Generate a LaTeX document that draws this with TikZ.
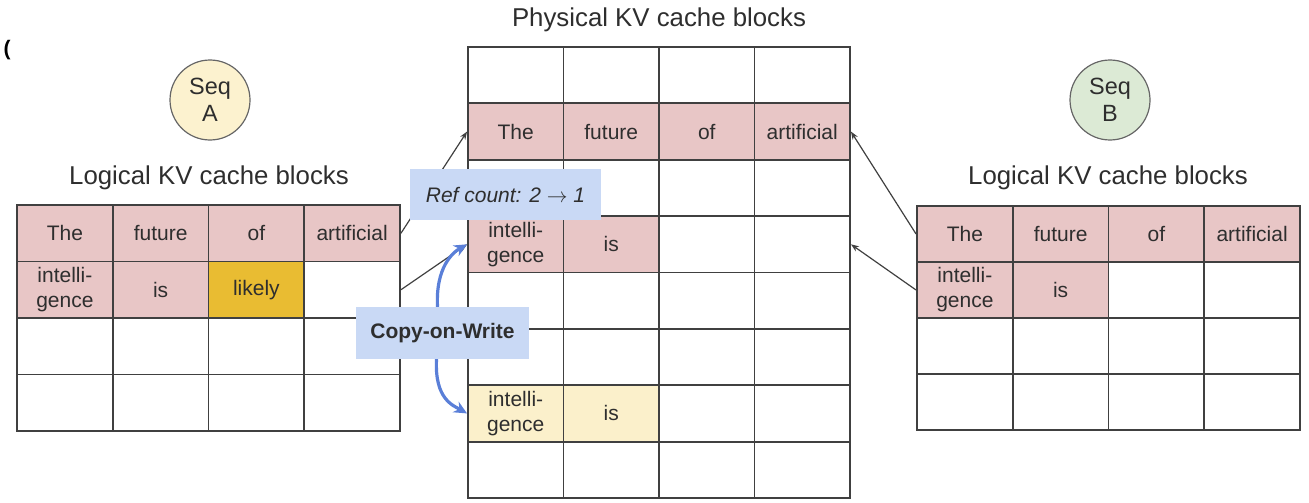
\documentclass[tikz,border=0pt]{standalone}
\usepackage{fontspec}
\setmainfont{Liberation Sans}
\usetikzlibrary{arrows.meta}

\definecolor{gridc}{HTML}{404040}
\definecolor{txt}{HTML}{2E2E2E}
\definecolor{pinkc}{HTML}{E8C6C6}
\definecolor{goldc}{HTML}{E9BC32}
\definecolor{creamc}{HTML}{FBF0CB}
\definecolor{tagc}{HTML}{C9D9F5}
\definecolor{cowc}{HTML}{5A7FD8}
\definecolor{seqa}{HTML}{FCF2CF}
\definecolor{seqb}{HTML}{DCEAD5}

\newcommand{\cellfont}{\fontsize{21}{25}\selectfont}
\newcommand{\titlefont}{\fontsize{25.8}{30}\selectfont}

\begin{document}
\begin{tikzpicture}[x=1pt,y=-1pt,
  cell/.style={draw=gridc, line width=1.9pt, inner sep=0pt, align=center,
    font=\cellfont, text=txt, fill=white},
  lcell/.style={cell, minimum width=95.75pt, minimum height=56.5pt},
  pcell/.style={cell, minimum width=95.5pt, minimum height=56.375pt},
  rcell/.style={cell, minimum width=95.75pt, minimum height=56pt},
  title/.style={font=\titlefont, text=txt},
  seq/.style={circle, draw=gray!80!black, line width=1.2pt, minimum size=80pt,
    inner sep=0pt, align=center, text=txt, font=\fontsize{23.5}{27}\selectfont},
  link/.style={draw=gridc, line width=1.2pt, -{Stealth[length=8pt,width=6pt]}},
  tag/.style={fill=tagc, inner sep=0pt, text=txt, font=\cellfont},
  cow/.style={draw=cowc, line width=3.2pt, -{Stealth[length=13pt,width=12pt]}}
]
\useasboundingbox (0,0) rectangle (1309,503);

% stray bracket mark in the top-left corner
\node[font=\fontsize{21}{24}\selectfont\bfseries, text=black, inner sep=0pt] (mark) at (7,50) {(};

% titles
\node[title] (ptitle) at (659,20) {Physical KV cache blocks};
\node[title] (ltitleA) at (209,178) {Logical KV cache blocks};
\node[title] (ltitleB) at (1108,178) {Logical KV cache blocks};

% sequence badges
\node[seq, fill=seqa] (seqA) at (210,100) {Seq\\A};
\node[seq, fill=seqb] (seqB) at (1110,100) {Seq\\B};

% logical blocks of sequence A
\foreach \r in {1,...,4}{\foreach \c in {1,...,4}{
  \node[lcell] (L-\r-\c) at ({17+95.75*(\c-0.5)},{205+56.5*(\r-0.5)}) {};
}}
\foreach \r/\c/\f/\t in {1/1/pinkc/The,1/2/pinkc/future,1/3/pinkc/of,
    1/4/pinkc/artificial,2/1/pinkc/{intelli-\\gence},2/2/pinkc/is,2/3/goldc/likely}{
  \node[lcell, fill=\f] (LT-\r-\c) at (L-\r-\c) {\t};
}

% physical blocks
\foreach \r in {1,...,8}{\foreach \c in {1,...,4}{
  \node[pcell] (P-\r-\c) at ({468+95.5*(\c-0.5)},{47+56.375*(\r-0.5)}) {};
}}
\foreach \r/\c/\f/\t in {2/1/pinkc/The,2/2/pinkc/future,2/3/pinkc/of,
    2/4/pinkc/artificial,4/1/pinkc/{intelli-\\gence},4/2/pinkc/is,
    7/1/creamc/{intelli-\\gence},7/2/creamc/is}{
  \node[pcell, fill=\f] (PT-\r-\c) at (P-\r-\c) {\t};
}

% logical blocks of sequence B
\foreach \r in {1,...,4}{\foreach \c in {1,...,4}{
  \node[rcell] (R-\r-\c) at ({917+95.75*(\c-0.5)},{206+56*(\r-0.5)}) {};
}}
\foreach \r/\c/\f/\t in {1/1/pinkc/The,1/2/pinkc/future,1/3/pinkc/of,
    1/4/pinkc/artificial,2/1/pinkc/{intelli-\\gence},2/2/pinkc/is}{
  \node[rcell, fill=\f] (RT-\r-\c) at (R-\r-\c) {\t};
}

% block table mappings
\draw[link] (L-1-4.east) -- (P-2-1.west);
\draw[link] (L-2-4.east) -- (P-4-1.west);
\draw[link] (R-1-1.west) -- (P-2-4.east);
\draw[link] (R-2-1.west) -- (P-4-4.east);
\draw[draw=gridc, line width=1.9pt] (L-3-4.north east) -- (P-6-1.north west);

% copy-on-write label and arrows
\node[tag, minimum width=173pt, minimum height=52pt,
  font=\cellfont\bfseries] (cowbox) at (442.5,333) {};
\draw[cow] ([xshift=-5pt]cowbox.north) .. controls +(-2,-40) and +(-14,8) .. (P-4-1.west);
\draw[cow] ([xshift=-6pt]cowbox.south) .. controls +(-2,40) and +(-14,-8) .. (P-7-1.west);
\node[tag, minimum width=173pt, minimum height=52pt,
  font=\cellfont\bfseries] (cow) at (cowbox) {Copy-on-Write};

% reference count label
\node[tag, minimum width=191pt, minimum height=51pt,
  font=\cellfont\itshape] (refc) at (505.5,194.5) {Ref count: 2 $\rightarrow$ 1};
\end{tikzpicture}
\end{document}
